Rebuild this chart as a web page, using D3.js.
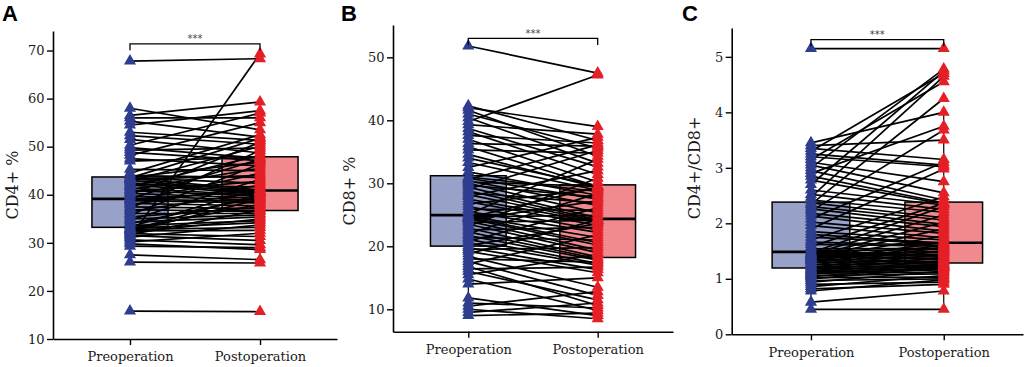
<!DOCTYPE html>
<html>
<head>
<meta charset="utf-8">
<script src="https://cdn.jsdelivr.net/npm/d3@7"></script>
<style>
    body { margin: 0; background: #fff; }
    svg { display: block; }
</style>
</head>
<body>
<svg id="chart" width="1026" height="367"></svg>
<script>
// groups on the x axis
const groups = ["Preoperation", "Postoperation"];

// Panel A: CD4+ %, one value per patient, same order in both arrays
const cd4Pre = [
    15.8, 26.0, 27.5, 29.3, 29.8, 30.2, 30.6, 31.0, 31.2, 31.5,
    31.7, 31.9, 32.1, 32.3, 32.5, 32.6, 32.8, 32.9, 33.0, 33.3,
    33.6, 34.0, 34.3, 34.7, 35.0, 35.4, 35.8, 36.1, 36.5, 36.9,
    37.2, 37.5, 37.9, 38.2, 38.5, 38.8, 39.0, 39.1, 39.2, 39.7,
    40.0, 40.3, 40.6, 40.9, 41.1, 41.4, 41.7, 42.0, 42.2, 42.5,
    42.8, 43.0, 43.2, 43.4, 43.5, 43.5, 43.6, 44.0, 44.5, 45.3,
    47.0, 47.5, 48.2, 48.8, 49.3, 49.8, 50.3, 51.5, 52.3, 53.0,
    54.5, 55.3, 56.0, 56.5, 58.0, 67.8
];
const cd4Post = [
    15.7, 25.8, 26.5, 29.0, 28.6, 32.0, 29.6, 69.3, 33.7, 30.5,
    36.8, 31.3, 35.0, 39.1, 32.6, 40.1, 33.2, 38.0, 34.2, 41.3,
    34.6, 39.5, 35.4, 43.2, 35.8, 37.4, 46.4, 36.1, 40.6, 36.5,
    49.2, 37.1, 42.0, 37.7, 44.5, 38.3, 40.8, 38.6, 47.4, 38.9,
    50.9, 39.3, 42.8, 39.7, 45.5, 39.9, 48.2, 40.3, 41.6, 40.5,
    50.1, 40.7, 44.0, 41.0, 51.7, 42.4, 46.8, 43.6, 52.5, 45.0,
    47.8, 46.0, 55.0, 47.1, 49.7, 47.6, 57.0, 48.7, 50.5, 51.3,
    57.5, 52.0, 56.0, 59.3, 53.5, 68.3
];
const cd4Ticks = [10, 20, 30, 40, 50, 60, 70];

// Panel B: CD8+ %
const cd8Pre = [
    9.0, 9.5, 10.0, 10.5, 11.0, 11.8, 14.0, 14.8, 15.5, 16.0,
    16.4, 16.8, 17.2, 17.6, 18.0, 18.4, 18.8, 19.2, 19.5, 19.8,
    20.1, 20.5, 20.8, 21.1, 21.4, 21.7, 22.0, 22.3, 22.6, 22.9,
    23.2, 23.5, 23.8, 24.0, 24.2, 24.4, 24.5, 24.6, 24.7, 24.8,
    25.1, 25.5, 25.9, 26.3, 26.7, 27.1, 27.5, 27.9, 28.2, 28.5,
    28.8, 29.1, 29.4, 29.7, 30.0, 30.2, 30.4, 30.6, 30.8, 31.0,
    31.8, 32.5, 33.3, 34.0, 34.6, 35.3, 35.8, 36.3, 37.0, 37.6,
    38.2, 38.7, 39.3, 39.8, 40.4, 41.0, 41.6, 42.0, 42.3, 51.8
];
const cd8Post = [
    9.4, 11.0, 8.5, 12.8, 10.2, 9.0, 15.0, 9.8, 18.7, 11.5,
    16.7, 10.6, 21.8, 12.2, 17.5, 13.5, 24.2, 15.8, 19.8, 16.3,
    23.6, 17.0, 26.1, 17.3, 21.0, 17.8, 28.4, 18.0, 23.0, 18.3,
    30.8, 19.0, 24.1, 19.4, 27.2, 20.2, 29.4, 20.6, 24.9, 21.4,
    33.8, 22.2, 25.7, 22.6, 29.1, 23.3, 23.8, 32.0, 24.0, 26.9,
    24.2, 35.2, 24.5, 27.8, 25.3, 29.5, 26.5, 36.1, 27.5, 28.7,
    28.1, 37.3, 28.9, 29.6, 29.3, 34.8, 29.5, 35.9, 30.2, 36.4,
    31.4, 32.6, 37.8, 47.2, 33.2, 35.6, 34.3, 39.0, 36.8, 47.5
];
const cd8Ticks = [10, 20, 30, 40, 50];

// Panel C: CD4+/CD8+ ratio
const ratioPre = [
    0.45, 0.58, 0.78, 0.82, 0.86, 0.90, 0.94, 0.97, 1.00, 1.02,
    1.04, 1.06, 1.08, 1.10, 1.11, 1.12, 1.14, 1.15, 1.17, 1.18,
    1.20, 1.22, 1.24, 1.26, 1.28, 1.30, 1.32, 1.33, 1.35, 1.36,
    1.38, 1.39, 1.40, 1.41, 1.42, 1.43, 1.44, 1.45, 1.46, 1.47,
    1.50, 1.54, 1.58, 1.62, 1.66, 1.70, 1.75, 1.80, 1.85, 1.90,
    1.96, 2.02, 2.08, 2.13, 2.18, 2.22, 2.26, 2.30, 2.34, 2.37,
    2.42, 2.47, 2.52, 2.60, 2.70, 2.78, 2.85, 2.90, 2.95, 3.00,
    3.05, 3.10, 3.15, 3.20, 3.25, 3.30, 3.35, 3.40, 3.45, 5.15
];
const ratioPost = [
    0.45, 0.78, 0.98, 0.90, 1.06, 0.94, 1.14, 1.00, 1.20, 1.03,
    1.23, 1.09, 1.27, 1.12, 1.33, 1.16, 1.39, 1.18, 1.45, 1.21,
    1.51, 1.22, 1.57, 1.24, 1.61, 1.26, 1.66, 1.29, 1.78, 1.31,
    1.90, 1.35, 2.02, 1.37, 1.41, 1.43, 2.15, 1.47, 1.49, 2.30,
    1.53, 1.55, 2.36, 1.59, 1.60, 2.48, 1.63, 1.64, 1.70, 2.98,
    1.74, 1.82, 3.10, 1.86, 1.94, 3.68, 1.98, 2.06, 4.25, 2.10,
    2.20, 4.65, 2.25, 2.33, 4.74, 2.35, 2.37, 3.75, 2.42, 4.78,
    2.55, 2.75, 4.55, 3.02, 3.05, 4.70, 3.15, 3.50, 4.00, 5.15
];
const ratioTicks = [0, 1, 2, 3, 4, 5];

// significance bracket height (data units) and its label
const sigLevels = [71.4, 53.0, 5.31];
const sigLabel = "***";

// colours
const pointColours = ["#2f3d8f", "#e41f26"];
const boxColours = ["#98a2c8", "#f08a8f"];

// layout of each panel (pixels)
const panels = [
    { letter: "A", title: "CD4+ %", pre: cd4Pre, post: cd4Post, ticks: cd4Ticks, sig: sigLevels[0],
      left: 53, right: 337, top: 31, bottom: 339, yDomain: [10, 74.06], pad: 0.592,
      letterX: 2, titleX: 12, titleY: 185 },
    { letter: "B", title: "CD8+ %", pre: cd8Pre, post: cd8Post, ticks: cd8Ticks, sig: sigLevels[1],
      left: 393, right: 673, top: 25, bottom: 331.7, yDomain: [6.44, 55.13], pad: 0.582,
      letterX: 341, titleX: 349, titleY: 191 },
    { letter: "C", title: "CD4+/CD8+", pre: ratioPre, post: ratioPost, ticks: ratioTicks, sig: sigLevels[2],
      left: 731.7, right: 1023, top: 28, bottom: 334.3, yDomain: [0, 5.52], pad: 0.597,
      letterX: 682, titleX: 694, titleY: 168 }
];

const serif = "'DejaVu Serif', serif";

function drawPanel(svg, p) {
    var g = svg.append("g");

    var x = d3.scalePoint().domain(groups).range([p.left, p.right]).padding(p.pad);
    var y = d3.scaleLinear().domain(p.yDomain).range([p.bottom, p.top]);
    var boxW = x.step() * 0.585;
    var series = [p.pre, p.post];

    // Boxes with whiskers (Tukey 1.5 IQR)
    series.forEach(function(vals, i) {
        var s = vals.slice().sort(d3.ascending);
        var q1 = d3.quantile(s, 0.25);
        var med = d3.quantile(s, 0.5);
        var q3 = d3.quantile(s, 0.75);
        var iqr = q3 - q1;
        var lo = d3.min(s.filter(function(v) { return v >= q1 - 1.5 * iqr; }));
        var hi = d3.max(s.filter(function(v) { return v <= q3 + 1.5 * iqr; }));
        var cx = x(groups[i]);

        g.append("line")
            .attr("x1", cx).attr("x2", cx)
            .attr("y1", y(lo)).attr("y2", y(hi))
            .attr("stroke", "#000").attr("stroke-width", 1.2);

        g.append("rect")
            .attr("x", cx - boxW / 2)
            .attr("y", y(q3))
            .attr("width", boxW)
            .attr("height", y(q1) - y(q3))
            .attr("fill", boxColours[i])
            .attr("stroke", "#000")
            .attr("stroke-width", 1.5);

        g.append("line")
            .attr("x1", cx - boxW / 2).attr("x2", cx + boxW / 2)
            .attr("y1", y(med)).attr("y2", y(med))
            .attr("stroke", "#000").attr("stroke-width", 2.6);
    });

    // Lines joining each patient's two values
    g.selectAll(".pair")
        .data(d3.range(p.pre.length))
        .enter().append("line")
        .attr("class", "pair")
        .attr("x1", x(groups[0]))
        .attr("x2", x(groups[1]))
        .attr("y1", function(i) { return y(p.pre[i]); })
        .attr("y2", function(i) { return y(p.post[i]); })
        .attr("stroke", "#000")
        .attr("stroke-width", 1.7);

    // Triangles
    var tri = d3.symbol().type(d3.symbolTriangle).size(64);
    series.forEach(function(vals, i) {
        g.selectAll(".pt" + i)
            .data(vals)
            .enter().append("path")
            .attr("class", "pt" + i)
            .attr("d", tri)
            .attr("transform", function(d) { return "translate(" + x(groups[i]) + "," + y(d) + ")"; })
            .attr("fill", pointColours[i]);
    });

    // Significance bracket
    var x0 = x(groups[0]), x1 = x(groups[1]), yb = y(p.sig);
    g.append("path")
        .attr("d", "M" + x0 + "," + (yb + 6.5) + "V" + yb + "H" + x1 + "V" + (yb + 6.5))
        .attr("fill", "none")
        .attr("stroke", "#000")
        .attr("stroke-width", 1.3);
    g.append("text")
        .attr("x", (x0 + x1) / 2)
        .attr("y", yb - 1.5)
        .attr("text-anchor", "middle")
        .attr("font-family", "'DejaVu Sans', sans-serif")
        .attr("font-size", "10px")
        .attr("fill", "#444")
        .text(sigLabel);

    // Axes
    var yAxis = g.append("g")
        .attr("transform", "translate(" + p.left + ",0)")
        .call(d3.axisLeft(y).tickValues(p.ticks).tickFormat(function(d) { return String(d); })
            .tickSize(6).tickSizeOuter(0).tickPadding(2.5));
    var xAxis = g.append("g")
        .attr("transform", "translate(0," + p.bottom + ")")
        .call(d3.axisBottom(x).tickSize(6).tickSizeOuter(0).tickPadding(7));

    [yAxis, xAxis].forEach(function(a) {
        a.select(".domain").attr("stroke", "#000").attr("stroke-width", 1.6);
        a.selectAll(".tick line").attr("stroke", "#000").attr("stroke-width", 1.4);
        a.selectAll(".tick text")
            .attr("font-family", serif)
            .attr("font-size", "13px")
            .attr("fill", "#1a1a1a");
    });

    // Axis title
    g.append("text")
        .attr("transform", "translate(" + p.titleX + "," + p.titleY + ") rotate(-90)")
        .attr("text-anchor", "middle")
        .attr("dy", "0.36em")
        .attr("font-family", serif)
        .attr("font-size", "16px")
        .attr("fill", "#1a1a1a")
        .text(p.title);

    // Panel letter
    g.append("text")
        .attr("x", p.letterX)
        .attr("y", 21)
        .attr("font-family", "'Liberation Sans', Arial, sans-serif")
        .attr("font-weight", "bold")
        .attr("font-size", "22px")
        .attr("fill", "#000")
        .text(p.letter);
}

var svg = d3.select("#chart");
panels.forEach(function(p) { drawPanel(svg, p); });
</script>
</body>
</html>
